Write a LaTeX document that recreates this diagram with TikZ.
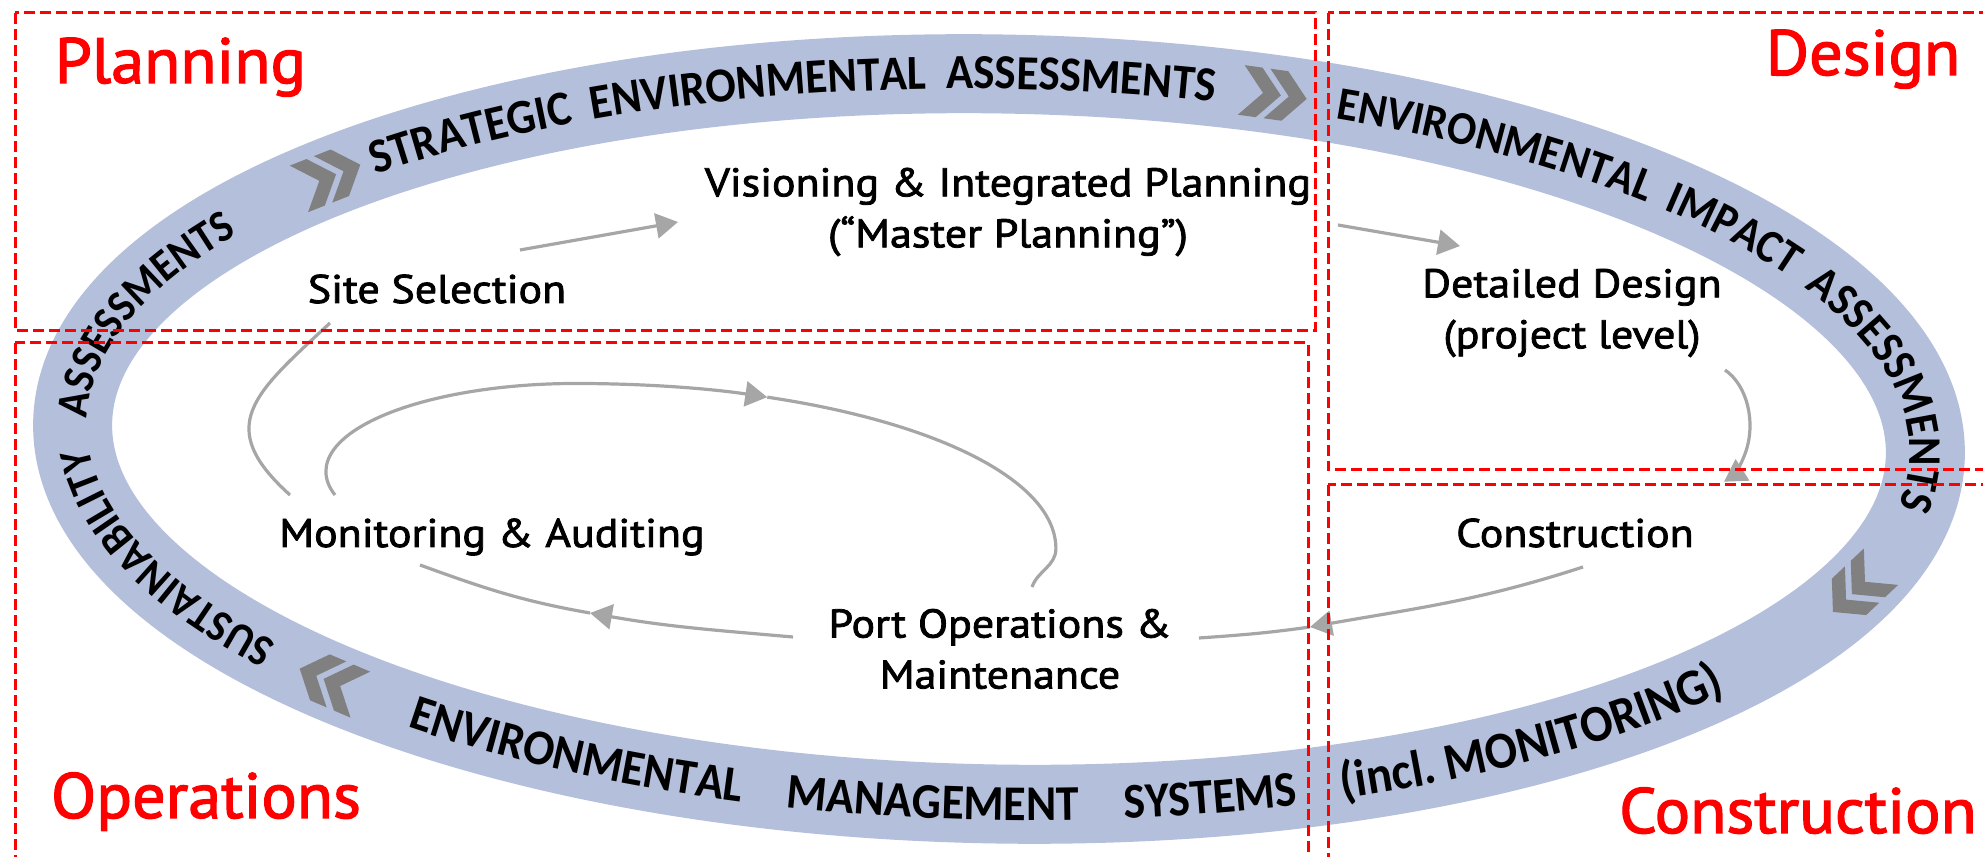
\documentclass[tikz,border=0pt]{standalone}
\usepackage{fontspec}
\setmainfont{PT Sans}
\newfontfamily\stagefont{PT Sans}[FakeStretch=1.1, FakeBold=2]
\newfontfamily\phasefont{PT Sans}[FakeStretch=1.035, FakeBold=2]
\newfontfamily\carlito{Carlito}[FakeStretch=0.92]
\usetikzlibrary{arrows.meta,calc,decorations.text}

\definecolor{bandblue}{RGB}{180,191,219}
\definecolor{linkgray}{RGB}{166,166,166}
\definecolor{chevgray}{RGB}{128,128,128}
\definecolor{phasered}{RGB}{255,0,0}

\newcommand{\bandfont}{\carlito\bfseries\fontsize{24.5}{24.5}\selectfont}
\newcommand{\eiafont}{\carlito\bfseries\fontsize{23.5}{23.5}\selectfont}
\newcommand{\sidebandfont}{\carlito\bfseries\fontsize{22.5}{22.5}\selectfont}
\newcommand{\lowbandfont}{\carlito\bfseries\fontsize{25}{25}\selectfont}
\newcommand{\inclfont}{\carlito\bfseries\fontsize{26}{26}\selectfont}

\tikzset{
  stage/.style={font=\stagefont\fontsize{20}{25.5}\selectfont, align=center, inner sep=0pt},
  phase/.style={font=\phasefont\fontsize{32}{38}\selectfont, text=phasered, anchor=base, inner sep=0pt},
  zone/.style={draw=phasered, line width=1.5pt, dash pattern=on 5.5pt off 2.5pt},
  band/.style={draw=bandblue, line width=39.5pt},
  link/.style={draw=linkgray, line width=1.6pt},
  linkarrow/.style={link, -{Triangle[length=11pt,width=12.5pt]}},
  bandtext/.style={decorate, decoration={text along path, text align={fit to path stretching spaces}, text={#1}}},
}

\begin{document}
\begin{tikzpicture}[x=0.5pt,y=0.5pt]
  \useasboundingbox (0,0) rectangle (1983,857);
  \clip (0,0) rectangle (1983,857);

  % the ring
  \begin{scope}[shift={(999,418)}, rotate=-1]
    \draw[band] (0,0) ellipse [x radius=926.5, y radius=365];
    \path[bandtext={|\bandfont|STRATEGIC ENVIRONMENTAL ASSESSMENTS}]
      (133.6:911 and 350) arc[start angle=133.6, end angle=76.7, x radius=911, y radius=350];
    \path[bandtext={|\eiafont|ENVIRONMENTAL IMPACT ASSESSMENTS}]
      (68.7:911 and 350) arc[start angle=68.7, end angle=-8.5, x radius=911, y radius=350];
    \path[bandtext={|\sidebandfont|SUSTAINABILITY ASSESSMENTS}]
      (218:912 and 351) arc[start angle=218, end angle=147, x radius=912, y radius=351];
    \path[bandtext={|\lowbandfont|ENVIRONMENTAL MANAGEMENT SYSTEMS}]
      (231.5:942.5 and 381) arc[start angle=231.5, end angle=288.9, x radius=942.5, y radius=381];
    \path[bandtext={|\inclfont|(incl. MONITORING)}]
      (291.8:942.5 and 381) arc[start angle=291.8, end angle=320.7, x radius=942.5, y radius=381];
    \foreach \t in {136.5,73,-22,224}{
      \pgfmathsetmacro{\ang}{atan2(-365*cos(\t),926.5*sin(\t))}
      \begin{scope}[shift={(\t:926.5 and 365)}, rotate=\ang]
        \fill[chevgray] (-35,25) -- (-17,25) -- (5,0) -- (-17,-25) -- (-35,-25) -- (-13,0) -- cycle;
        \fill[chevgray] (-9,25) -- (9,25) -- (31,0) -- (9,-25) -- (-9,-25) -- (13,0) -- cycle;
      \end{scope}
    }
  \end{scope}

  % stages
  \node[stage, anchor=base] (site) at (437,554) {Site Selection};
  \node[stage] (vision) at (1008,645) {Visioning \& Integrated Planning\\(“Master Planning”)};
  \node[stage] (detail) at (1572,544) {Detailed Design\\(project level)};
  \node[stage, anchor=base] (build) at (1575,310) {Construction};
  \node[stage] (port) at (1000,208) {Port Operations \&\\Maintenance};
  \node[stage, anchor=base] (audit) at (492,310) {Monitoring \& Auditing};

  % outer spiral
  \draw[linkarrow] ($(site.base)+(83,53)$) -- ($(vision)+(-330,-10)$);
  \draw[linkarrow] ($(vision)+(330,-13)$) -- ($(detail)+(-112,67)$);
  \draw[linkarrow] ($(detail)+(153,-57)$) arc[start angle=63.6, end angle=-65, x radius=45, y radius=62];
  \draw[linkarrow] ($(build.base)+(8,-20)$) to[out=-162,in=10] ($(port)+(310,22)$) coordinate (d1);
  \draw[link] (d1) to[out=-172,in=4] ($(port)+(199,11)$);
  \draw[linkarrow] ($(port)+(-207,12)$) to[out=175,in=-10] ($(port)+(-410,36)$) coordinate (e1);
  \draw[link] (e1) to[out=170,in=-20] ($(audit.base)+(-72,-18)$);
  \draw[link] ($(audit.base)+(-202,52)$) to[out=138,in=-137,looseness=1.5] ($(site.base)+(-107,-20)$);

  % inner loop
  \draw[linkarrow] ($(audit.base)+(-157,52)$) arc[start angle=195.5, end angle=90, x radius=250, y radius=88]
    arc[start angle=90, end angle=66.5, x radius=480, y radius=165] coordinate (g1);
  \draw[link] (g1) arc[start angle=66.5, end angle=0, x radius=480, y radius=165]
    to[out=-90,in=70] ($(port)+(32,62)$);

  % phases
  \draw[zone] (15,844) rectangle (1315,526);
  \draw[zone] (1328,844) rectangle (2010,387);
  \draw[zone] (15,514) rectangle (1308,-30);
  \draw[zone] (1328,372) rectangle (2010,-30);
  \node[phase] (planning) at (180.5,774) {Planning};
  \node[phase] (design) at (1863,782) {Design};
  \node[phase] (operations) at (206,39) {Operations};
  \node[phase] (construction) at (1798,24) {Construction};
\end{tikzpicture}
\end{document}
